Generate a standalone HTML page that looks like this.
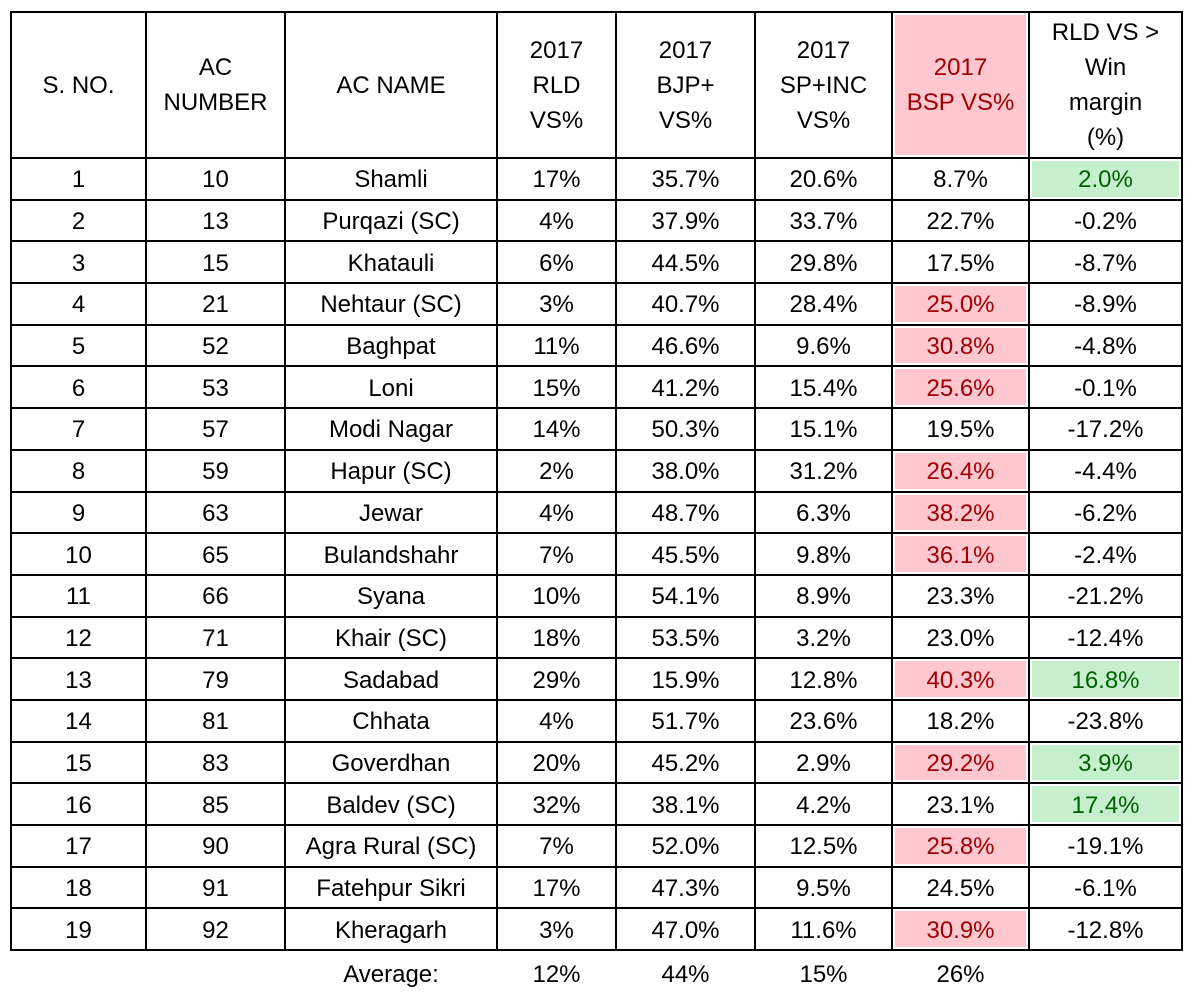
<!DOCTYPE html>
<html><head><meta charset="utf-8"><style>
body{margin:0;background:#fff;width:1200px;height:994px;overflow:hidden;font-family:"Liberation Sans",sans-serif;color:#000}
table{position:absolute;left:10px;top:11px;border-collapse:collapse;table-layout:fixed}
td{border:2px solid #000;text-align:center;font-size:24px;height:36.7px;padding:3px 0 0 0;line-height:26px;vertical-align:middle}
tr.h td{height:144px;line-height:35px;padding:0}
td.p{background:#ffc7ce;color:#9c0006;box-shadow:inset 0 0 0 2px #fff}
td.g{background:#c6efce;color:#006100;box-shadow:inset 0 0 0 2px #fff}
.avg{position:absolute;top:961px;font-size:24px;text-align:center}
</style></head><body>
<table>
<colgroup><col style="width:135px"><col style="width:139px"><col style="width:212px"><col style="width:119px"><col style="width:139px"><col style="width:137px"><col style="width:137px"><col style="width:153px"></colgroup>
<tr class="h"><td>S. NO.</td><td>AC<br>NUMBER</td><td>AC NAME</td><td>2017<br>RLD<br>VS%</td><td>2017<br>BJP+<br>VS%</td><td>2017<br>SP+INC<br>VS%</td><td class="p">2017<br>BSP VS%</td><td>RLD VS &gt;<br>Win<br>margin<br>(%)</td></tr>
<tr><td>1</td><td>10</td><td>Shamli</td><td>17%</td><td>35.7%</td><td>20.6%</td><td>8.7%</td><td class="g">2.0%</td></tr>
<tr><td>2</td><td>13</td><td>Purqazi (SC)</td><td>4%</td><td>37.9%</td><td>33.7%</td><td>22.7%</td><td>-0.2%</td></tr>
<tr><td>3</td><td>15</td><td>Khatauli</td><td>6%</td><td>44.5%</td><td>29.8%</td><td>17.5%</td><td>-8.7%</td></tr>
<tr><td>4</td><td>21</td><td>Nehtaur (SC)</td><td>3%</td><td>40.7%</td><td>28.4%</td><td class="p">25.0%</td><td>-8.9%</td></tr>
<tr><td>5</td><td>52</td><td>Baghpat</td><td>11%</td><td>46.6%</td><td>9.6%</td><td class="p">30.8%</td><td>-4.8%</td></tr>
<tr><td>6</td><td>53</td><td>Loni</td><td>15%</td><td>41.2%</td><td>15.4%</td><td class="p">25.6%</td><td>-0.1%</td></tr>
<tr><td>7</td><td>57</td><td>Modi Nagar</td><td>14%</td><td>50.3%</td><td>15.1%</td><td>19.5%</td><td>-17.2%</td></tr>
<tr><td>8</td><td>59</td><td>Hapur (SC)</td><td>2%</td><td>38.0%</td><td>31.2%</td><td class="p">26.4%</td><td>-4.4%</td></tr>
<tr><td>9</td><td>63</td><td>Jewar</td><td>4%</td><td>48.7%</td><td>6.3%</td><td class="p">38.2%</td><td>-6.2%</td></tr>
<tr><td>10</td><td>65</td><td>Bulandshahr</td><td>7%</td><td>45.5%</td><td>9.8%</td><td class="p">36.1%</td><td>-2.4%</td></tr>
<tr><td>11</td><td>66</td><td>Syana</td><td>10%</td><td>54.1%</td><td>8.9%</td><td>23.3%</td><td>-21.2%</td></tr>
<tr><td>12</td><td>71</td><td>Khair (SC)</td><td>18%</td><td>53.5%</td><td>3.2%</td><td>23.0%</td><td>-12.4%</td></tr>
<tr><td>13</td><td>79</td><td>Sadabad</td><td>29%</td><td>15.9%</td><td>12.8%</td><td class="p">40.3%</td><td class="g">16.8%</td></tr>
<tr><td>14</td><td>81</td><td>Chhata</td><td>4%</td><td>51.7%</td><td>23.6%</td><td>18.2%</td><td>-23.8%</td></tr>
<tr><td>15</td><td>83</td><td>Goverdhan</td><td>20%</td><td>45.2%</td><td>2.9%</td><td class="p">29.2%</td><td class="g">3.9%</td></tr>
<tr><td>16</td><td>85</td><td>Baldev (SC)</td><td>32%</td><td>38.1%</td><td>4.2%</td><td>23.1%</td><td class="g">17.4%</td></tr>
<tr><td>17</td><td>90</td><td>Agra Rural (SC)</td><td>7%</td><td>52.0%</td><td>12.5%</td><td class="p">25.8%</td><td>-19.1%</td></tr>
<tr><td>18</td><td>91</td><td>Fatehpur Sikri</td><td>17%</td><td>47.3%</td><td>9.5%</td><td>24.5%</td><td>-6.1%</td></tr>
<tr><td>19</td><td>92</td><td>Kheragarh</td><td>3%</td><td>47.0%</td><td>11.6%</td><td class="p">30.9%</td><td>-12.8%</td></tr>
</table>
<div class="avg" style="left:285px;width:212px">Average:</div>
<div class="avg" style="left:497px;width:119px">12%</div>
<div class="avg" style="left:616px;width:139px">44%</div>
<div class="avg" style="left:755px;width:137px">15%</div>
<div class="avg" style="left:892px;width:137px">26%</div>
</body></html>
